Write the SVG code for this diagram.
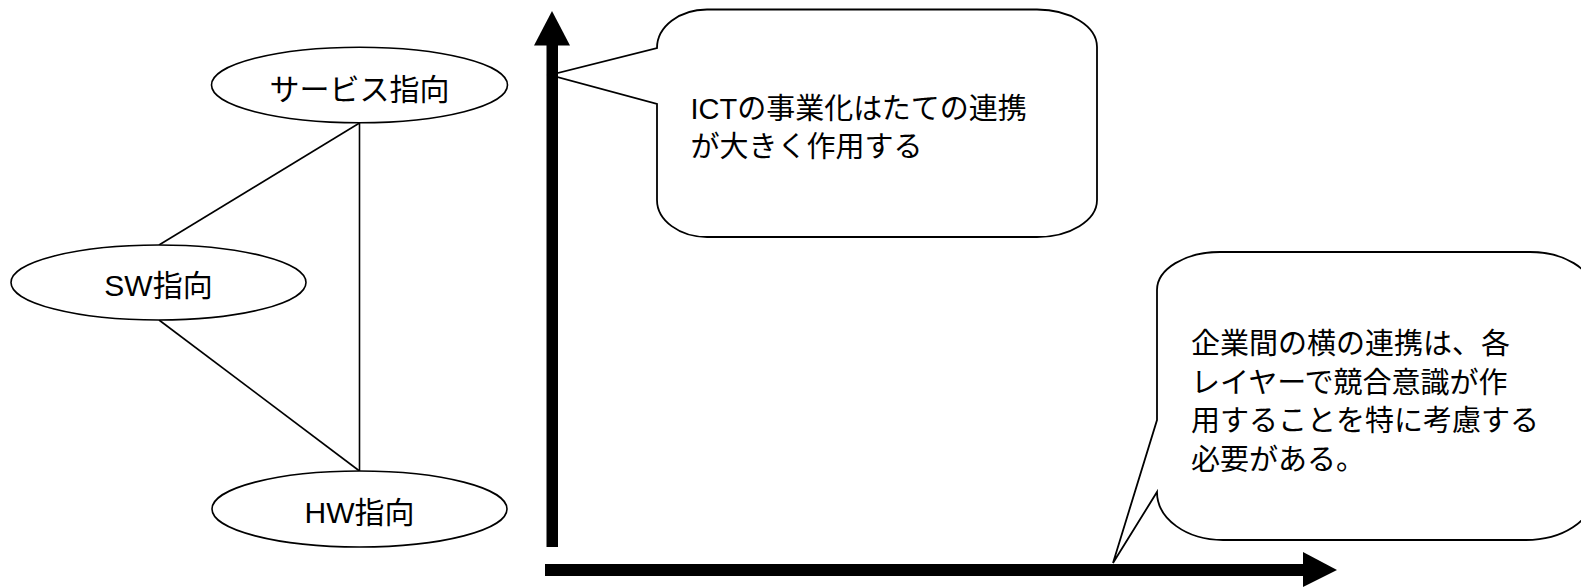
<svg xmlns="http://www.w3.org/2000/svg" width="1581" height="587" viewBox="0 0 1581 587">
<style>
.ell{fill:#fff;stroke:#000;stroke-width:1.6}
.lbl{font-family:"Liberation Sans","Noto Sans CJK JP",sans-serif;font-size:30px;fill:#000;text-anchor:middle}
.txt{font-family:"Liberation Sans","Noto Sans CJK JP",sans-serif;font-size:29px;fill:#000}
.callout{fill:#fff;stroke:#000;stroke-width:1.8;stroke-linejoin:miter}
.conn{stroke:#000;stroke-width:1.6;fill:none}
.axis{fill:#000}
</style>
<rect width="1581" height="587" fill="#fff"/>
<g id="connectors">
<line class="conn" x1="359.5" y1="123" x2="159" y2="245"/>
<line class="conn" x1="359.5" y1="123" x2="359.5" y2="471"/>
<line class="conn" x1="159" y1="320" x2="359.5" y2="471"/>
</g>
<g id="node-service">
<ellipse class="ell" cx="359.5" cy="85" rx="148" ry="37.7"/>
<text class="lbl" x="359.5" y="100">サービス指向</text>
</g>
<g id="node-sw">
<ellipse class="ell" cx="158.5" cy="282.5" rx="147.5" ry="37.5"/>
<text class="lbl" x="158.5" y="295.5">SW指向</text>
</g>
<g id="node-hw">
<ellipse class="ell" cx="359.5" cy="509" rx="147.5" ry="38"/>
<text class="lbl" x="359.5" y="522.5">HW指向</text>
</g>
<g id="callout-vertical">
<path class="callout" d="M657,104 L657,200 C657,220.4 679.4,237 707,237 L1037,237 C1070,237 1097,220.4 1097,200 L1097,47 C1097,26.3 1070,9.5 1037,9.5 L707,9.5 C679.4,9.5 657,26.7 657,48 L550,75 Z"/>
<text class="txt" x="690.5" y="119">ICTの事業化はたての連携</text>
<text class="txt" x="690.5" y="157">が大きく作用する</text>
</g>
<g id="callout-horizontal">
<path class="callout" d="M1157,420 L1157,290 C1157,269 1185.2,252 1220,252 L1530,252 C1564,252 1592,269 1592,290 L1592,497 C1592,521 1562,540 1526,540 L1223,540 C1186.5,540 1157,519 1157,492 L1113,563 Z"/>
<text class="txt" x="1191" y="354">企業間の横の連携は、各</text>
<text class="txt" x="1191" y="393">レイヤーで競合意識が作</text>
<text class="txt" x="1191" y="431">用することを特に考慮する</text>
<text class="txt" x="1191" y="470">必要がある。</text>
</g>
<g id="axes">
<rect class="axis" x="546.5" y="44" width="11.5" height="503"/>
<polygon class="axis" points="534,45.5 552,11 570,45.5"/>
<rect class="axis" x="545" y="564" width="759" height="12"/>
<polygon class="axis" points="1303,552 1337,570 1303,587"/>
</g>
</svg>
